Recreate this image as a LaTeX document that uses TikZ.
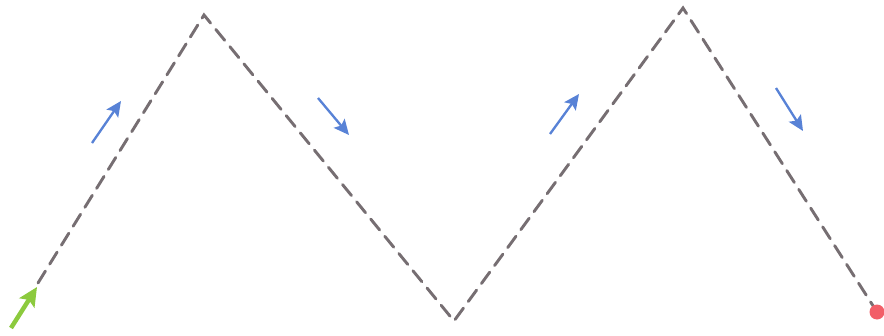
\documentclass[tikz,border=0pt]{standalone}
\usepackage{tikz}
\usetikzlibrary{arrows.meta}
\usetikzlibrary{calc}

\definecolor{pathgray}{RGB}{118,110,114}
\definecolor{dirblue}{RGB}{88,130,214}
\definecolor{startgreen}{RGB}{140,202,62}
\definecolor{endred}{RGB}{242,94,104}

\tikzset{
  zigzag/.style = {pathgray, line width = 2.5pt, dash pattern = on 12pt off 7pt, line cap = round},
  dirarrow/.style = {dirblue, line width = 2pt, -{Stealth[length = 13pt, width = 12pt, inset = 2.5pt]}},
  startarrow/.style = {startgreen, line width = 3.8pt, -{Stealth[length = 16pt, width = 15pt, inset = 3pt]}}
}

\begin{document}
\begin{tikzpicture}[x = 0.03cm, y = -0.03cm]
\useasboundingbox (0,0) rectangle (884,336);
    % Zigzag corners
\coordinate (0) at (38,283);
\coordinate (1) at (204,15);
\coordinate (2) at (454,321);
\coordinate (3) at (683,8);
\coordinate (4) at (877,312);

\draw[zigzag] (0) -- (1) -- (2) -- (3) -- (4);

\fill[endred] (4) circle (7.5);



\coordinate (g0) at (11,328);
\coordinate (g1) at (37,287);
\draw[startarrow] (g0) -- (g1);



\coordinate (a0) at (92,143);
\coordinate (a1) at (121,101);
\coordinate (b0) at (318,98);
\coordinate (b1) at (349,135);
\coordinate (c0) at (550,134);
\coordinate (c1) at (579,94);
\coordinate (d0) at (776,88);
\coordinate (d1) at (803,131);

\draw[dirarrow] (a0) -- (a1);
\draw[dirarrow] (b0) -- (b1);
\draw[dirarrow] (c0) -- (c1);
\draw[dirarrow] (d0) -- (d1);

\end{tikzpicture}
\end{document}
